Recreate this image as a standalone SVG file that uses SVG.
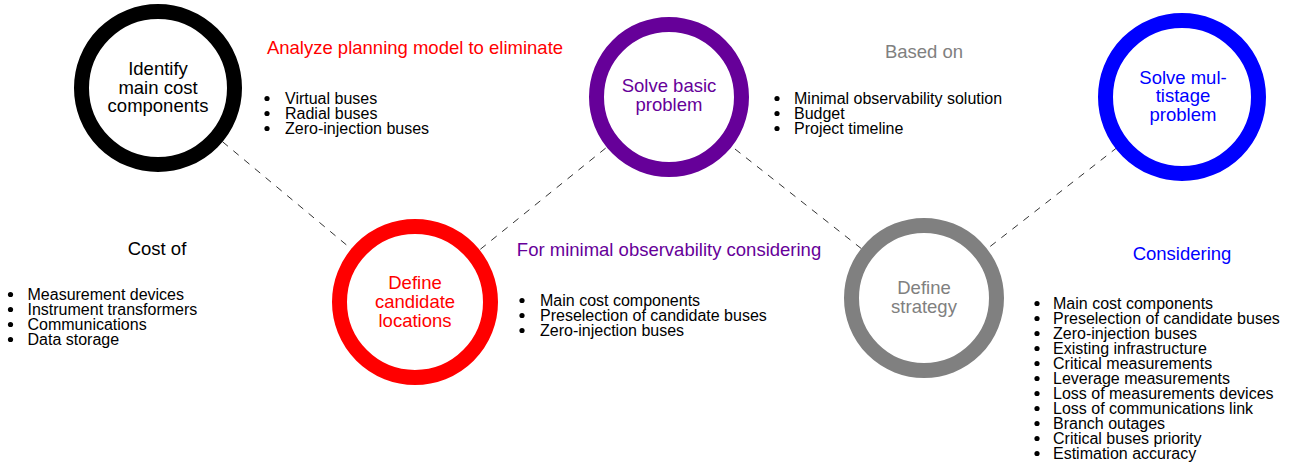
<svg xmlns="http://www.w3.org/2000/svg" width="1294" height="466" viewBox="0 0 1294 466">
<style>
text{font-family:"Liberation Sans",Arial,Helvetica,sans-serif}
.ring{fill:#fff;stroke-width:15}
.ct{font-size:18.5px;text-anchor:middle}
.tt{font-size:18.5px;text-anchor:middle}
.li{font-size:16px;fill:#000}
.conn{stroke:#333;stroke-width:1;stroke-dasharray:7,7;fill:none}
.bul{fill:#000}
</style>
<rect width="1294" height="466" fill="#fff"/>
<g id="connectors">
<line class="conn" x1="158" y1="88" x2="415" y2="302"/>
<line class="conn" x1="415" y1="302" x2="669" y2="97"/>
<line class="conn" x1="669" y1="97" x2="924" y2="298"/>
<line class="conn" x1="924" y1="298" x2="1182" y2="97"/>
</g>
<g id="node-identify">
<circle class="ring" cx="158" cy="88" r="76.5" stroke="#000"/>
<text class="ct" fill="#000"><tspan x="158" y="75">Identify</tspan><tspan x="158" y="93.5">main cost</tspan><tspan x="158" y="112">components</tspan></text>
</g>
<g id="node-define-candidate">
<circle class="ring" cx="415" cy="302" r="75.5" stroke="#f00"/>
<text class="ct" fill="#f00"><tspan x="415" y="289">Define</tspan><tspan x="415" y="308">candidate</tspan><tspan x="415" y="327">locations</tspan></text>
</g>
<g id="node-solve-basic">
<circle class="ring" cx="669" cy="97" r="72.5" stroke="#660099"/>
<text class="ct" fill="#660099"><tspan x="669" y="92">Solve basic</tspan><tspan x="669" y="111">problem</tspan></text>
</g>
<g id="node-define-strategy">
<circle class="ring" cx="924" cy="298" r="72.5" stroke="#808080"/>
<text class="ct" fill="#808080"><tspan x="924" y="294">Define</tspan><tspan x="924" y="312.5">strategy</tspan></text>
</g>
<g id="node-solve-multistage">
<circle class="ring" cx="1182" cy="97" r="76.5" stroke="#00f"/>
<text class="ct" fill="#00f"><tspan x="1183" y="83.5">Solve mul-</tspan><tspan x="1183" y="102">tistage</tspan><tspan x="1183" y="120.5">problem</tspan></text>
</g>
<g id="note-analyze">
<text class="tt" x="415" y="54" fill="#f00">Analyze planning model to eliminate</text>
<circle class="bul" cx="267" cy="98.5" r="2.6"/><circle class="bul" cx="267" cy="113.5" r="2.6"/><circle class="bul" cx="267" cy="128.5" r="2.6"/>
<text class="li"><tspan x="285" y="103.5">Virtual buses</tspan><tspan x="285" y="118.5">Radial buses</tspan><tspan x="285" y="133.5">Zero-injection buses</tspan></text>
</g>
<g id="note-based-on">
<text class="tt" x="924" y="58" fill="#808080">Based on</text>
<circle class="bul" cx="777" cy="98.5" r="2.6"/><circle class="bul" cx="777" cy="113.5" r="2.6"/><circle class="bul" cx="777" cy="128.5" r="2.6"/>
<text class="li"><tspan x="794" y="103.5">Minimal observability solution</tspan><tspan x="794" y="118.5">Budget</tspan><tspan x="794" y="133.5">Project timeline</tspan></text>
</g>
<g id="note-cost-of">
<text class="tt" x="157" y="255" fill="#000">Cost of</text>
<circle class="bul" cx="10.5" cy="294.5" r="2.6"/><circle class="bul" cx="10.5" cy="309.5" r="2.6"/><circle class="bul" cx="10.5" cy="324.5" r="2.6"/><circle class="bul" cx="10.5" cy="339.5" r="2.6"/>
<text class="li"><tspan x="27.5" y="299.5">Measurement devices</tspan><tspan x="27.5" y="314.5">Instrument transformers</tspan><tspan x="27.5" y="329.5">Communications</tspan><tspan x="27.5" y="344.5">Data storage</tspan></text>
</g>
<g id="note-minimal">
<text class="tt" x="669" y="256" fill="#660099">For minimal observability considering</text>
<circle class="bul" cx="522" cy="300.5" r="2.6"/><circle class="bul" cx="522" cy="315.5" r="2.6"/><circle class="bul" cx="522" cy="330.5" r="2.6"/>
<text class="li"><tspan x="540" y="305.5">Main cost components</tspan><tspan x="540" y="320.5">Preselection of candidate buses</tspan><tspan x="540" y="335.5">Zero-injection buses</tspan></text>
</g>
<g id="note-considering">
<text class="tt" x="1182" y="260" fill="#00f">Considering</text>
<g class="bul">
<circle cx="1037" cy="303.5" r="2.6"/><circle cx="1037" cy="318.5" r="2.6"/><circle cx="1037" cy="333.5" r="2.6"/><circle cx="1037" cy="348.5" r="2.6"/><circle cx="1037" cy="363.5" r="2.6"/><circle cx="1037" cy="378.5" r="2.6"/><circle cx="1037" cy="393.5" r="2.6"/><circle cx="1037" cy="408.5" r="2.6"/><circle cx="1037" cy="423.5" r="2.6"/><circle cx="1037" cy="438.5" r="2.6"/><circle cx="1037" cy="453.5" r="2.6"/>
</g>
<text class="li"><tspan x="1053" y="308.5">Main cost components</tspan><tspan x="1053" y="323.5">Preselection of candidate buses</tspan><tspan x="1053" y="338.5">Zero-injection buses</tspan><tspan x="1053" y="353.5">Existing infrastructure</tspan><tspan x="1053" y="368.5">Critical measurements</tspan><tspan x="1053" y="383.5">Leverage measurements</tspan><tspan x="1053" y="398.5">Loss of measurements devices</tspan><tspan x="1053" y="413.5">Loss of communications link</tspan><tspan x="1053" y="428.5">Branch outages</tspan><tspan x="1053" y="443.5">Critical buses priority</tspan><tspan x="1053" y="458.5">Estimation accuracy</tspan></text>
</g>
</svg>
